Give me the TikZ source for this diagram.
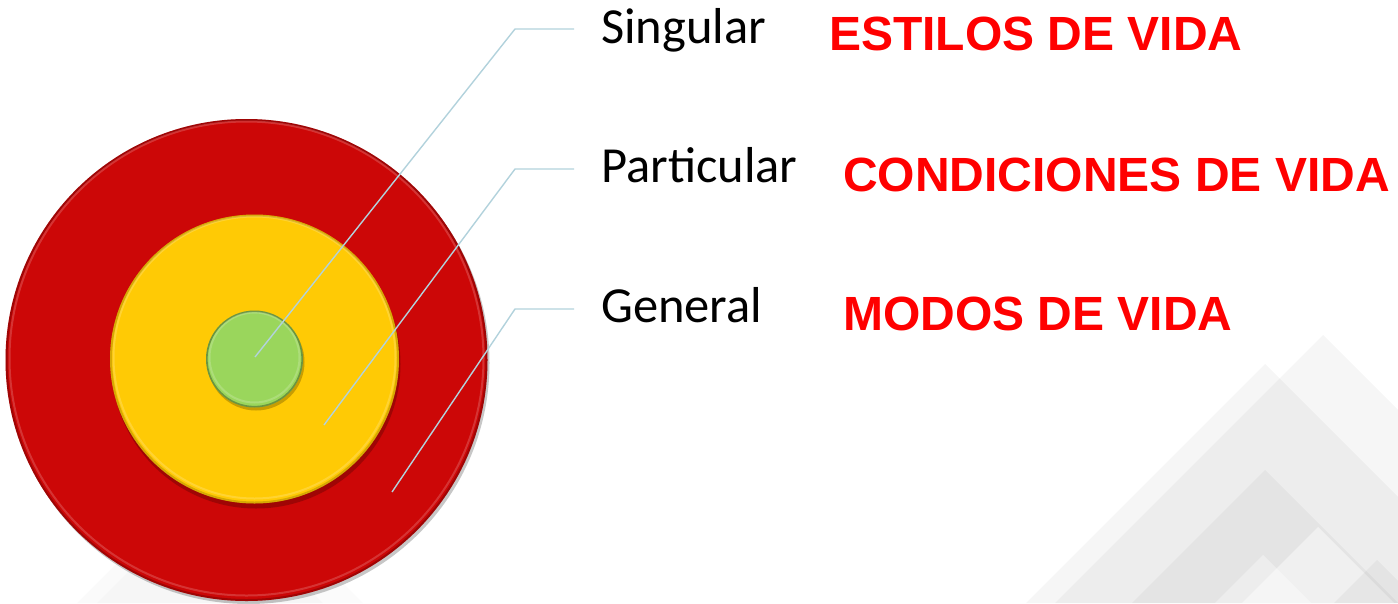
\documentclass[tikz,border=0pt]{standalone}
\usepackage{fontspec}
\setmainfont{Carlito}
\newfontfamily\arialfont{Liberation Sans}
\definecolor{ringred}{HTML}{CC0707}
\definecolor{ringyellow}{HTML}{FFCA05}
\definecolor{ringgreen}{HTML}{9AD65C}
\definecolor{linkblue}{HTML}{B2D2DC}
\definecolor{redtext}{HTML}{FF0000}
\tikzset{
  ring/.style={circle, inner sep=0pt, minimum size=#1},
  ringshadow/.style={fill=black, opacity=0.22},
  ringedge/.style={draw=black, opacity=0.22, line width=2pt},
  ringshine/.style={draw=white, opacity=0.18, line width=2pt},
  link/.style={draw=linkblue, line width=1.4pt, line join=round},
  levellabel/.style={anchor=base west, inner sep=0pt, font=\fontsize{50.5}{56}\selectfont, text=black},
  conceptlabel/.style={anchor=base west, inner sep=0pt, font=\arialfont\bfseries\fontsize{48}{54}\selectfont, text=redtext},
  bgtri/.style={fill=black, opacity=#1},
  bgtriw/.style={fill=white, opacity=#1},
}
\begin{document}
\begin{tikzpicture}[x=1pt,y=-1pt]
\useasboundingbox (0,0) rectangle (1398,603);
\begin{scope}
\clip (0,0) rectangle (1398,603);
% background triangles
\fill[bgtri=0.035] (1323,335) -- ++(268,268) -- ++(-536,0) -- cycle;
\fill[bgtri=0.035] (1265,364) -- ++(239,239) -- ++(-478,0) -- cycle;
\fill[bgtri=0.04] (1265,470) -- ++(133,133) -- ++(-266,0) -- cycle;
\fill[bgtriw=0.45] (1318,527) -- ++(76,76) -- ++(-152,0) -- cycle;
\fill[bgtriw=0.35] (1263,555) -- ++(48,48) -- ++(-96,0) -- cycle;
\fill[bgtri=0.04] (1377,560) -- ++(43,43) -- ++(-86,0) -- cycle;
\fill[bgtri=0.02] (200,480) -- ++(123,123) -- ++(-246,0) -- cycle;
\fill[bgtri=0.015] (230,470) -- ++(133,133) -- ++(-266,0) -- cycle;

% outer ring
\fill[ringshadow] (248.5,363) circle[radius=241pt];
\node[ring=482pt, fill=ringred] (outer) at (246.5,360) {};
\draw[ringedge] (outer.center) circle[radius=240pt];
\draw[ringshine] (outer.center) ++(0,-1.5) circle[radius=237pt];
% middle ring
\fill[ringshadow] (256,364) circle[radius=144.5pt];
\node[ring=289pt, fill=ringyellow] (middle) at (254.5,359) {};
\draw[ringedge, opacity=0.16] (middle.center) circle[radius=143.5pt];
\draw[ringshine] (middle.center) ++(0,-1.5) circle[radius=141pt];
% inner ring
\fill[ringshadow] (256,362) circle[radius=48.5pt];
\node[ring=97pt, fill=ringgreen] (inner) at (254.5,359) {};
\draw[ringedge, opacity=0.3, line width=1.6pt] (inner.center) circle[radius=47.7pt];
\draw[ringshine] (inner.center) ++(0,-1.5) circle[radius=45pt];
\end{scope}

% labels
\node[levellabel] (singular) at (601,43) {Singular};
\node[levellabel] (particular) at (601,182) {Particular};
\node[levellabel] (general) at (601,322) {General};
\node[conceptlabel] (estilos) at (829,50) {ESTILOS DE VIDA};
\node[conceptlabel] (condiciones) at (843,191) {CONDICIONES DE VIDA};
\node[conceptlabel] (modos) at (843,330) {MODOS DE VIDA};

% connectors
\coordinate (s1) at (255,357);
\coordinate (e1) at (515,29);
\coordinate (t1) at (574,29);
\coordinate (s2) at (324,425);
\coordinate (e2) at (515,169);
\coordinate (t2) at (574,169);
\coordinate (s3) at (392,492);
\coordinate (e3) at (515,309);
\coordinate (t3) at (574,309);
\draw[link] (s1) -- (e1) -- (t1);
\draw[link] (s2) -- (e2) -- (t2);
\draw[link] (s3) -- (e3) -- (t3);
\end{tikzpicture}
\end{document}
